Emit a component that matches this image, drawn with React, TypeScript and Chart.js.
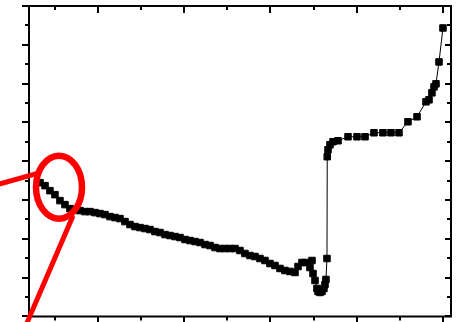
import React, { useEffect, useRef } from "react";
import { Chart, registerables } from "chart.js";

Chart.register(...registerables);

// Measured curve: x positions and y values
const xValues = [
  0.328, 0.386, 0.443, 0.501, 0.559, 0.617, 0.675, 0.733, 0.791, 0.849,
  0.907, 0.965, 1.023, 1.081, 1.139, 1.197, 1.255, 1.313, 1.371, 1.429,
  1.487, 1.545, 1.603, 1.661, 1.719, 1.777, 1.835, 1.893, 1.951, 2.009,
  2.067, 2.125, 2.183, 2.241, 2.299, 2.357, 2.414, 2.472, 2.53, 2.588,
  2.646, 2.704, 2.762, 2.82, 2.878, 2.936, 2.994, 3.052, 3.11, 3.168,
  3.226, 3.284, 3.319, 3.365, 3.412, 3.481, 3.458, 3.493, 3.516, 3.539,
  3.551, 3.574, 3.597, 3.62, 3.632, 3.643, 3.655, 3.658, 3.667, 3.69,
  3.725, 3.783, 3.899, 4.003, 4.096, 4.2, 4.304, 4.397, 4.49, 4.594,
  4.699, 4.803, 4.838, 4.872, 4.896, 4.919, 4.954, 5.0,
];

const yValues = [
  3.447, 3.37, 3.241, 3.138, 2.984, 2.881, 2.778, 2.752, 2.727, 2.701,
  2.701, 2.675, 2.65, 2.624, 2.572, 2.547, 2.521, 2.444, 2.367, 2.315,
  2.289, 2.264, 2.238, 2.186, 2.161, 2.109, 2.084, 2.058, 2.032, 1.981,
  1.955, 1.929, 1.904, 1.852, 1.826, 1.775, 1.749, 1.749, 1.749, 1.749,
  1.698, 1.621, 1.569, 1.543, 1.492, 1.441, 1.363, 1.312, 1.235, 1.183,
  1.158, 1.132, 1.286, 1.389, 1.389, 1.441, 1.26, 1.106, 0.926, 0.72,
  0.643, 0.617, 0.643, 0.72, 0.823, 0.952, 1.492, 4.116, 4.296, 4.424,
  4.502, 4.527, 4.63, 4.63, 4.63, 4.733, 4.733, 4.733, 4.733, 5.016,
  5.145, 5.531, 5.582, 5.762, 5.916, 5.994, 6.559, 7.434,
];

// Tick positions (no labels are shown)
const xMajorTicks = [1, 2, 3, 4, 5];
const xMinorTicks = [0.5, 1.5, 2.5, 3.5, 4.5];
const yMajorTicks = [0, 1, 2, 3, 4, 5, 6, 7, 8];
const yMinorTicks = [0.5, 1.5, 2.5, 3.5, 4.5, 5.5, 6.5, 7.5];

// Region of the curve circled in red
const highlightX = [0.548];
const highlightY = [3.331];

const framePlugin = {
  id: "frameAndCallout",
  afterDatasetsDraw(chart: any) {
    const { ctx, chartArea: a, scales } = chart;
    const xs = scales.x;
    const ys = scales.y;
    ctx.save();

    // Box frame
    ctx.strokeStyle = "#000";
    ctx.lineWidth = 2;
    ctx.lineCap = "butt";
    ctx.beginPath();
    ctx.rect(a.left, a.top, a.right - a.left, a.bottom - a.top);
    ctx.stroke();

    // Ticks: outward on bottom/left, inward on top/right
    ctx.beginPath();
    const seg = (x1: number, y1: number, x2: number, y2: number) => {
      ctx.moveTo(x1, y1);
      ctx.lineTo(x2, y2);
    };
    const xTick = (v: number, len: number, lenTop: number) => {
      const px = Math.round(xs.getPixelForValue(v));
      seg(px, a.bottom, px, a.bottom + len);
      seg(px, a.top, px, a.top + lenTop);
    };
    const yTick = (v: number, len: number, lenRight: number) => {
      const py = Math.round(ys.getPixelForValue(v));
      seg(a.left - len, py, a.left, py);
      seg(a.right - lenRight, py, a.right, py);
    };
    xMajorTicks.forEach((v) => xTick(v, 7, 7));
    xMinorTicks.forEach((v) => xTick(v, 4, 4));
    yMajorTicks.forEach((v) => yTick(v, 7, 6));
    yMinorTicks.forEach((v) => yTick(v, 4, 4));
    ctx.stroke();

    // Red callout: ellipse round the start of the curve with two leader lines
    ctx.strokeStyle = "#ff0000";
    ctx.lineCap = "butt";
    highlightX.forEach((hx, i) => {
      const cx = xs.getPixelForValue(hx);
      const cy = ys.getPixelForValue(highlightY[i]);
      ctx.lineWidth = 6.5;
      ctx.beginPath();
      ctx.ellipse(cx, cy, 23, 31.5, 0, 0, Math.PI * 2);
      ctx.stroke();

      ctx.lineWidth = 5;
      ctx.beginPath();
      ctx.moveTo(cx - 62, cy - 2.5);
      ctx.lineTo(cx - 19, cy - 14.5);
      ctx.moveTo(cx + 14, cy + 28.5);
      ctx.lineTo(cx - 33, cy + 138);
      ctx.stroke();
    });

    ctx.restore();
  },
};

export default function App() {
  const canvasRef = useRef<HTMLCanvasElement | null>(null);

  useEffect(() => {
    const canvas = canvasRef.current;
    if (!canvas) return;
    const points = xValues.map((x, i) => ({ x, y: yValues[i] }));
    const chart = new Chart(canvas, {
      type: "scatter",
      data: {
        datasets: [
          {
            data: points,
            showLine: true,
            borderColor: "#000",
            borderWidth: 1,
            pointStyle: "rect",
            pointRadius: 4.6,
            pointBackgroundColor: "#000",
            pointBorderColor: "#000",
            pointBorderWidth: 1,
            tension: 0,
          },
        ],
      },
      options: {
        animation: false,
        responsive: false,
        maintainAspectRatio: false,
        devicePixelRatio: 1,
        events: [],
        layout: { padding: { left: 29, right: 6, top: 6, bottom: 5 } },
        plugins: {
          legend: { display: false },
          tooltip: { enabled: false },
          title: { display: false },
        },
        scales: {
          x: { type: "linear", min: 0.2, max: 5.093, display: false },
          y: { type: "linear", min: 0, max: 8, display: false },
        },
      },
      plugins: [framePlugin],
    });
    return () => chart.destroy();
  }, []);

  return (
    <div
      style={{
        position: "absolute",
        left: 0,
        top: 0,
        width: 457,
        height: 322,
        background: "#fff",
      }}
    >
      <canvas ref={canvasRef} width={457} height={322} style={{ display: "block" }} />
    </div>
  );
}
